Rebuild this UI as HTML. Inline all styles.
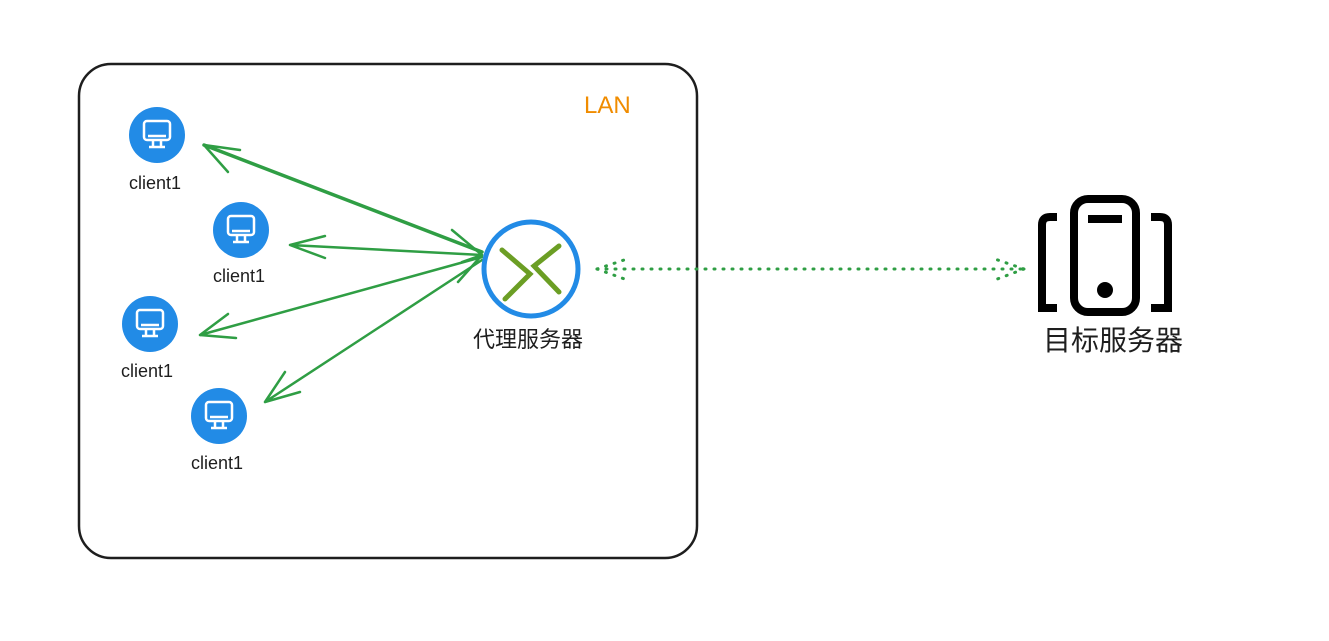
<!DOCTYPE html>
<html><head><meta charset="utf-8"><style>body{margin:0;background:#fff}svg{display:block}</style></head><body>
<svg width="1329" height="641" viewBox="0 0 1329 641" xmlns="http://www.w3.org/2000/svg" font-family="Liberation Sans, Noto Sans CJK SC, sans-serif">
<defs>
<g id="m" fill="none" stroke="#fff" stroke-width="2.5" stroke-linejoin="round"><rect x="-13" y="-12" width="26" height="19" rx="3"/><path d="M-9 3 L9 3 M-4 7 L-4 13 M4 7 L4 13 M-8 14 L8 14"/></g>
</defs>
<rect x="79" y="64" width="618" height="494" rx="32" fill="none" stroke="#1e1e1e" stroke-width="2.5"/>
<text x="584" y="113" font-size="24" fill="#f08c00">LAN</text>
<g fill="#228be6">
<circle cx="157" cy="135" r="28"/><circle cx="241" cy="230" r="28"/><circle cx="150" cy="324" r="28"/><circle cx="219" cy="416" r="28"/>
</g>
<use href="#m" x="157" y="133"/><use href="#m" x="241" y="228"/><use href="#m" x="150" y="322"/><use href="#m" x="219" y="414"/>
<g font-size="18" fill="#1e1e1e" text-anchor="middle">
<text x="155" y="189">client1</text><text x="239" y="282">client1</text><text x="147" y="377">client1</text><text x="217" y="469">client1</text>
</g>
<g fill="none" stroke="#2f9e44" stroke-width="2.5" stroke-linecap="round">
<path d="M482 252 L204 145" stroke-width="3.5"/><path d="M204 145 L240 150 M204 145 L228 172"/>
<path d="M482 255 L290 245 M290 245 L325 236 M290 245 L325 258"/>
<path d="M482 257 L200 335 M200 335 L228 314 M200 335 L236 338"/>
<path d="M482 260 L265 402 M265 402 L285 372 M265 402 L300 392"/>
<path d="M482 255 L452 230 M482 255 L458 282 M482 255 L462 262"/>
</g>
<circle cx="531" cy="269" r="47" fill="none" stroke="#228be6" stroke-width="5"/>
<g stroke="#5c940d" stroke-width="5" stroke-linecap="round" fill="none" opacity=".9">
<path d="M502 250 L530 274 L505 299"/><path d="M559 246 L534 266 L559 292"/>
</g>
<text x="528" y="347" font-size="22" fill="#1e1e1e" text-anchor="middle">代理服务器</text>
<g stroke="#2f9e44" stroke-width="3" stroke-linecap="round" fill="none" stroke-dasharray="1 8">
<path d="M597 269 L1024 269"/><path d="M597 269 L630 258 M597 269 L630 281"/><path d="M1024 269 L992 258 M1024 269 L992 281"/>
</g>
<g fill="none" stroke="#000" stroke-width="8">
<rect x="1074" y="199" width="62" height="113" rx="14"/>
<path d="M1057 217 L1050 217 Q1042 217 1042 225 L1042 308 L1057 308"/>
<path d="M1151 217 L1160 217 Q1168 217 1168 225 L1168 308 L1151 308"/>
<path d="M1088 219 L1122 219"/>
</g>
<circle cx="1105" cy="290" r="8" fill="#000"/>
<text x="1113" y="350" font-size="28" fill="#1e1e1e" text-anchor="middle">目标服务器</text>
</svg>
</body></html>
